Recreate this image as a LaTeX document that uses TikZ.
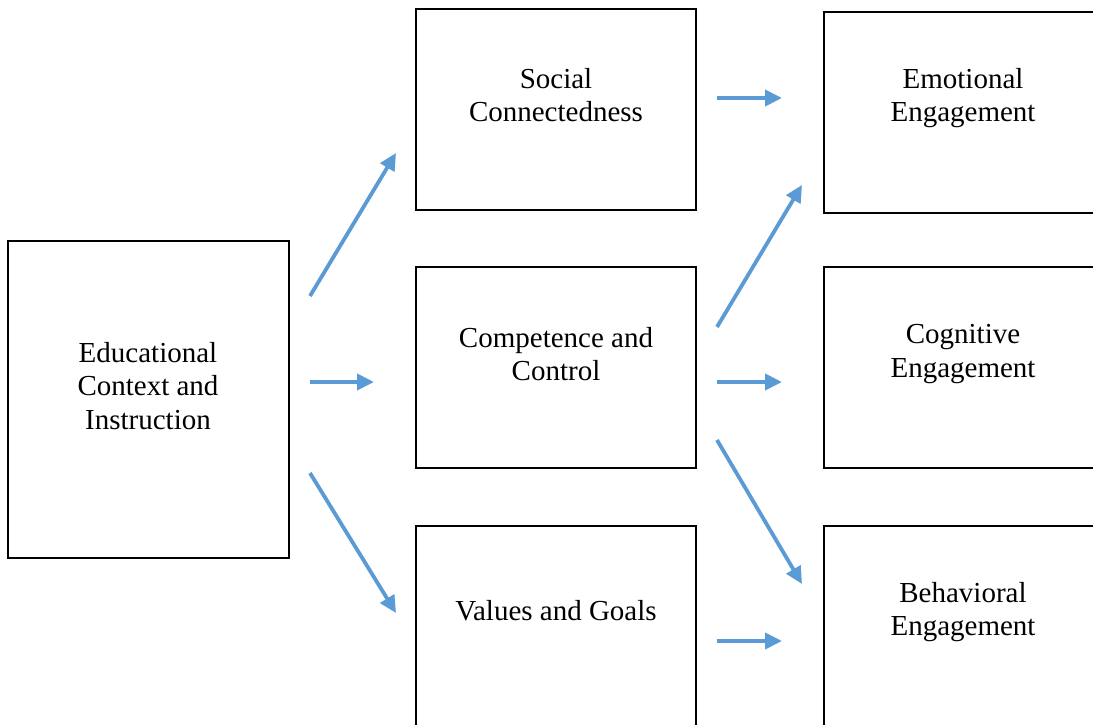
\documentclass[tikz,border=0pt]{standalone}
\usepackage{fontspec}
\setmainfont{Liberation Serif}
\usetikzlibrary{arrows.meta}
\definecolor{arrowblue}{RGB}{91,155,213}
\begin{document}
\begin{tikzpicture}[x=1pt,y=-1pt,
  box/.style={draw=black,line width=2.4pt,fill=white,inner sep=0pt},
  lbl/.style={align=center,inner sep=0pt,font=\fontsize{29}{33.5}\selectfont},
  conn/.style={draw=arrowblue,line width=3.8pt,-{Triangle[length=17pt,width=16pt]}}]
\useasboundingbox (0,0) rectangle (1093,725);
\clip (0,0) rectangle (1093,725);
\fill[white] (0,0) rectangle (1093,725);
% boxes
\draw[box] (8,241) rectangle (289,558);
\draw[box] (416,9) rectangle (696,210);
\draw[box] (416,267) rectangle (696,468);
\draw[box] (416,526) rectangle (696,740);
\draw[box] (824,12) rectangle (1110,213);
\draw[box] (824,267) rectangle (1110,468);
\draw[box] (824,526) rectangle (1110,740);
% labels
\node[lbl] (edu) at (148,386) {Educational\\Context and\\Instruction};
\node[lbl] (soc) at (556,95) {Social\\Connectedness};
\node[lbl] (comp) at (556,354) {Competence and\\Control};
\node[lbl] (val) at (556,611) {Values and Goals};
\node[lbl] (emo) at (963,98) {Emotional\\Engagement};
\node[lbl] (cog) at (963,354) {Cognitive\\Engagement};
\node[lbl] (beh) at (963,612) {Behavioral\\Engagement};
% connector end points
\coordinate (a1s) at (310,296); \coordinate (a1e) at (396,153);
\coordinate (a2s) at (310,382); \coordinate (a2e) at (374,382);
\coordinate (a3s) at (310,473); \coordinate (a3e) at (396,613);
\coordinate (b1s) at (717,98);  \coordinate (b1e) at (782,98);
\coordinate (b2s) at (717,327); \coordinate (b2e) at (802,185);
\coordinate (b3s) at (717,382); \coordinate (b3e) at (782,382);
\coordinate (b4s) at (717,440); \coordinate (b4e) at (802,584);
\coordinate (b5s) at (717,641); \coordinate (b5e) at (782,641);
\draw[conn] (a1s) -- (a1e);
\draw[conn] (a2s) -- (a2e);
\draw[conn] (a3s) -- (a3e);
\draw[conn] (b1s) -- (b1e);
\draw[conn] (b2s) -- (b2e);
\draw[conn] (b3s) -- (b3e);
\draw[conn] (b4s) -- (b4e);
\draw[conn] (b5s) -- (b5e);
\end{tikzpicture}
\end{document}
